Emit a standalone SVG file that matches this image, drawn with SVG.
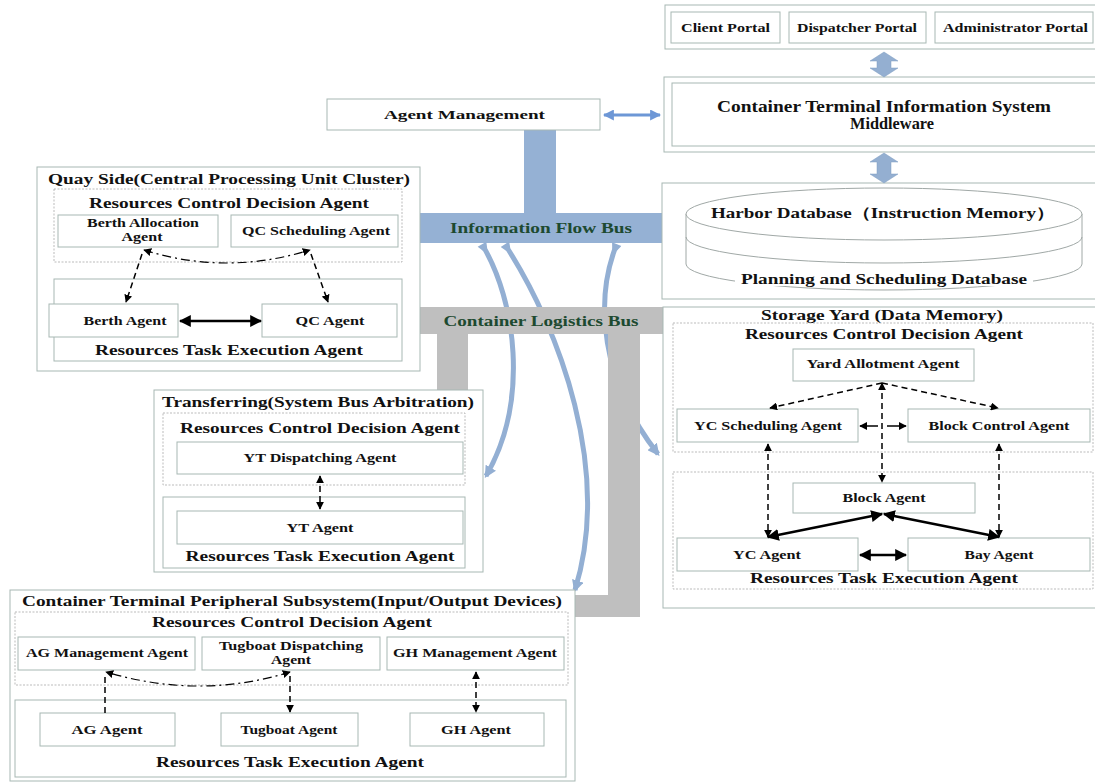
<svg xmlns="http://www.w3.org/2000/svg" width="1095" height="782" viewBox="0 0 1095 782">
<style>
text{font-family:"Liberation Serif","Times New Roman",serif;font-weight:bold;fill:#111;}
.t12{font-size:12px;text-anchor:middle;}
.t11{font-size:11.5px;text-anchor:middle;}
.t15{font-size:15px;text-anchor:middle;}
.t16{font-size:16px;text-anchor:middle;}
.bus{font-size:14.5px;text-anchor:middle;fill:#1d4a30;}
.box{fill:#fff;stroke:#a7b8b3;stroke-width:1;}
.dbox{fill:#fff;stroke:#a9a9a9;stroke-width:0.8;stroke-dasharray:2,1.5;}
.dash{fill:none;stroke:#000;stroke-width:1.5;stroke-dasharray:6,4;}
.dd{fill:none;stroke:#000;stroke-width:1.2;stroke-dasharray:9,4,2,4;}
.sol{fill:none;stroke:#000;stroke-width:2.5;}
.sol1{fill:none;stroke:#000;stroke-width:1.5;}
.curve{fill:none;stroke:#93afd3;stroke-width:5;}
.fat{fill:#94afd1;stroke:#7f9cc0;stroke-width:0.5;}
</style>
<defs>
<marker id="ah" viewBox="0 0 10 10" refX="9" refY="5" markerWidth="8" markerHeight="8" markerUnits="userSpaceOnUse" orient="auto-start-reverse"><path d="M0,0 L10,5 L0,10 z" fill="#000"/></marker>
<marker id="ahb" viewBox="0 0 10 10" refX="9" refY="5" markerWidth="12" markerHeight="12" markerUnits="userSpaceOnUse" orient="auto-start-reverse"><path d="M0,0 L10,5 L0,10 z" fill="#000"/></marker>
<marker id="bh" viewBox="0 0 10 10" refX="8" refY="5" markerWidth="12" markerHeight="12" markerUnits="userSpaceOnUse" orient="auto"><path d="M0,0 L10,5 L0,10 z" fill="#93afd3"/></marker>
<marker id="bt" viewBox="0 0 10 10" refX="2" refY="5" markerWidth="12" markerHeight="10" markerUnits="userSpaceOnUse" orient="auto"><path d="M0,0 L6,2.5 L6,7.5 L0,10 z" fill="#93afd3"/></marker>
<marker id="lb" viewBox="0 0 10 10" refX="9" refY="5" markerWidth="11" markerHeight="11" markerUnits="userSpaceOnUse" orient="auto-start-reverse"><path d="M0,0 L10,5 L0,10 z" fill="#6d97d6"/></marker>
</defs>

<!-- buses -->
<g id="information-flow-bus">
<rect x="524" y="129" width="32" height="86" fill="#95b1d4"/>
<rect x="418" y="213" width="244" height="30" fill="#95b1d4"/>
<text class="bus" x="541" y="233" textLength="182" lengthAdjust="spacingAndGlyphs">Information Flow Bus</text>
</g>
<g id="connectors-bus">
<path class="curve" d="M483,246 C515,300 530,400 486,476" marker-start="url(#bt)" marker-end="url(#bh)"/>
<path class="curve" d="M506,246 C560,330 612,470 575,590" marker-start="url(#bt)" marker-end="url(#bh)"/>
<path class="curve" d="M616,246 C595,300 600,380 658,454" marker-start="url(#bt)" marker-end="url(#bh)"/>
</g>
<g id="container-logistics-bus">
<rect x="418" y="307" width="247" height="27" fill="#bfbfbf"/>
<rect x="437" y="334" width="31" height="60" fill="#bfbfbf"/>
<rect x="608" y="334" width="32" height="283" fill="#bfbfbf"/>
<rect x="560" y="595" width="80" height="22" fill="#bfbfbf"/>
<text class="bus" x="541" y="326" textLength="195" lengthAdjust="spacingAndGlyphs">Container Logistics Bus</text>
</g>

<!-- top right -->
<g id="portals">
<rect class="box" x="665" y="5" width="432" height="44"/>
<rect class="box" x="671" y="12" width="109" height="31"/>
<text class="t12" x="725.5" y="32" textLength="89" lengthAdjust="spacingAndGlyphs">Client Portal</text>
<rect class="box" x="789" y="12" width="137" height="31"/>
<text class="t12" x="857" y="32" textLength="120" lengthAdjust="spacingAndGlyphs">Dispatcher Portal</text>
<rect class="box" x="935" y="12" width="158" height="31"/>
<text class="t12" x="1015.5" y="32" textLength="145" lengthAdjust="spacingAndGlyphs">Administrator Portal</text>
</g>
<g id="middleware">
<rect class="box" x="664" y="77" width="433" height="75"/>
<rect class="box" x="672" y="83" width="425" height="63"/>
<text class="t16" x="884" y="112" textLength="334" lengthAdjust="spacingAndGlyphs">Container Terminal Information System</text>
<text class="t16" x="892" y="129" textLength="84" lengthAdjust="spacingAndGlyphs">Middleware</text>
</g>
<g id="database">
<rect class="box" x="662" y="183" width="435" height="116"/>
<path d="M686,214 L686,264 A198,26 0 0 0 1082,264 L1082,214" fill="#fff" stroke="#a0a8a6" stroke-width="1"/>
<path d="M686,237 A198,26 0 0 0 1082,237" fill="none" stroke="#a0a8a6" stroke-width="1"/>
<ellipse cx="884" cy="214" rx="198" ry="26" fill="#fff" stroke="#a0a8a6" stroke-width="1"/>
<text class="t15" x="883" y="218" textLength="344" lengthAdjust="spacingAndGlyphs">Harbor Database（Instruction Memory）</text>
<rect x="735" y="270" width="298" height="16" fill="#fff"/>
<text class="t15" x="884" y="284" textLength="286" lengthAdjust="spacingAndGlyphs">Planning and Scheduling Database</text>
</g>
<g id="agent-management">
<rect class="box" x="327" y="99" width="273" height="31"/>
<text class="t12" x="464.5" y="119" font-size="13.5" textLength="161" lengthAdjust="spacingAndGlyphs">Agent Management</text>
</g>

<!-- Quay side -->
<g id="quay-side">
<rect class="box" x="37" y="167" width="383" height="204"/>
<text class="t15" x="229" y="184" textLength="362" lengthAdjust="spacingAndGlyphs">Quay Side(Central Processing Unit Cluster)</text>
<rect class="dbox" x="54" y="189" width="348" height="73"/>
<text class="t15" x="229" y="208" textLength="280" lengthAdjust="spacingAndGlyphs">Resources Control Decision Agent</text>
<rect class="box" x="58" y="215" width="160" height="32"/>
<text class="t11" x="143" y="227" textLength="112" lengthAdjust="spacingAndGlyphs">Berth Allocation</text>
<text class="t11" x="142" y="241" textLength="41" lengthAdjust="spacingAndGlyphs">Agent</text>
<rect class="box" x="231" y="215" width="167" height="32"/>
<text class="t11" x="316" y="235" textLength="148" lengthAdjust="spacingAndGlyphs">QC Scheduling Agent</text>
<rect class="box" x="54" y="279" width="348" height="82"/>
<rect class="box" x="49" y="304" width="129" height="33"/>
<text class="t11" x="125" y="325" textLength="83" lengthAdjust="spacingAndGlyphs">Berth Agent</text>
<rect class="box" x="262" y="304" width="135" height="33"/>
<text class="t11" x="330" y="325" textLength="69" lengthAdjust="spacingAndGlyphs">QC Agent</text>
<text class="t15" x="229" y="355" textLength="268" lengthAdjust="spacingAndGlyphs">Resources Task Execution Agent</text>
</g>

<!-- Transferring -->
<g id="transferring">
<rect class="box" x="154" y="390" width="329" height="182"/>
<text class="t15" x="318" y="407" textLength="312" lengthAdjust="spacingAndGlyphs">Transferring(System Bus Arbitration)</text>
<rect class="dbox" x="163" y="413" width="302" height="72"/>
<text class="t15" x="320" y="433" textLength="280" lengthAdjust="spacingAndGlyphs">Resources Control Decision Agent</text>
<rect class="box" x="177" y="442" width="286" height="32"/>
<text class="t11" x="320" y="462" textLength="153" lengthAdjust="spacingAndGlyphs">YT Dispatching Agent</text>
<rect class="box" x="163" y="497" width="302" height="71"/>
<rect class="box" x="177" y="511" width="286" height="33"/>
<text class="t11" x="320" y="532" textLength="67" lengthAdjust="spacingAndGlyphs">YT Agent</text>
<text class="t15" x="320" y="561" textLength="269" lengthAdjust="spacingAndGlyphs">Resources Task Execution Agent</text>
</g>

<!-- Storage yard -->
<g id="storage-yard">
<rect class="box" x="663" y="307" width="434" height="301"/>
<text class="t15" x="882" y="320" textLength="242" lengthAdjust="spacingAndGlyphs">Storage Yard (Data Memory)</text>
<rect class="dbox" x="673" y="323" width="420" height="129"/>
<text class="t15" x="884" y="339" textLength="278" lengthAdjust="spacingAndGlyphs">Resources Control Decision Agent</text>
<rect class="box" x="793" y="349" width="181" height="32"/>
<text class="t11" x="883" y="368" textLength="153" lengthAdjust="spacingAndGlyphs">Yard Allotment Agent</text>
<rect class="box" x="677" y="409" width="181" height="33"/>
<text class="t11" x="768" y="430" textLength="148" lengthAdjust="spacingAndGlyphs">YC Scheduling Agent</text>
<rect class="box" x="908" y="409" width="182" height="33"/>
<text class="t11" x="999" y="430" textLength="141" lengthAdjust="spacingAndGlyphs">Block Control Agent</text>
<rect class="dbox" x="673" y="472" width="420" height="117"/>
<rect class="box" x="793" y="483" width="182" height="30"/>
<text class="t11" x="884" y="502" textLength="83" lengthAdjust="spacingAndGlyphs">Block Agent</text>
<rect class="box" x="677" y="538" width="181" height="33"/>
<text class="t11" x="767" y="559" textLength="68" lengthAdjust="spacingAndGlyphs">YC Agent</text>
<rect class="box" x="908" y="538" width="182" height="33"/>
<text class="t11" x="999" y="559" textLength="69" lengthAdjust="spacingAndGlyphs">Bay Agent</text>
<text class="t15" x="884" y="583" textLength="268" lengthAdjust="spacingAndGlyphs">Resources Task Execution Agent</text>
</g>

<!-- Peripheral -->
<g id="peripheral">
<rect class="box" x="10" y="590" width="565" height="191"/>
<text class="t15" x="292" y="606" textLength="540" lengthAdjust="spacingAndGlyphs">Container Terminal Peripheral Subsystem(Input/Output Devices)</text>
<rect class="dbox" x="15" y="612" width="553" height="73"/>
<text class="t15" x="292" y="627" textLength="280" lengthAdjust="spacingAndGlyphs">Resources Control Decision Agent</text>
<rect class="box" x="18" y="637" width="177" height="33"/>
<text class="t11" x="107" y="657" textLength="162" lengthAdjust="spacingAndGlyphs">AG Management Agent</text>
<rect class="box" x="202" y="637" width="178" height="33"/>
<text class="t11" x="291" y="650" textLength="144" lengthAdjust="spacingAndGlyphs">Tugboat Dispatching</text>
<text class="t11" x="291" y="664" textLength="40" lengthAdjust="spacingAndGlyphs">Agent</text>
<rect class="box" x="387" y="637" width="177" height="33"/>
<text class="t11" x="475" y="657" textLength="164" lengthAdjust="spacingAndGlyphs">GH Management Agent</text>
<rect class="box" x="15" y="700" width="551" height="77"/>
<rect class="box" x="40" y="713" width="135" height="33"/>
<text class="t11" x="107" y="734" textLength="71" lengthAdjust="spacingAndGlyphs">AG Agent</text>
<rect class="box" x="221" y="713" width="137" height="33"/>
<text class="t11" x="289" y="734" textLength="97" lengthAdjust="spacingAndGlyphs">Tugboat Agent</text>
<rect class="box" x="410" y="713" width="134" height="33"/>
<text class="t11" x="476" y="734" textLength="70" lengthAdjust="spacingAndGlyphs">GH Agent</text>
<text class="t15" x="290" y="767" textLength="268" lengthAdjust="spacingAndGlyphs">Resources Task Execution Agent</text>
</g>

<!-- connectors -->
<g id="connectors">
<path class="fat" d="M884,52 L898,61 L891,61 L891,68 L898,68 L884,77 L870,68 L877,68 L877,61 L870,61 z"/>
<path class="fat" d="M884,153 L898,162 L891,162 L891,174 L898,174 L884,183 L870,174 L877,174 L877,162 L870,162 z"/>
<path d="M604,115 L660,115" stroke="#6d97d6" stroke-width="3" fill="none" marker-start="url(#lb)" marker-end="url(#lb)"/>

<path class="dd" d="M144,250 Q226,276 310,250" marker-start="url(#ah)" marker-end="url(#ah)"/>
<path class="dash" d="M142,254 L126,302" marker-end="url(#ah)"/>
<path class="dash" d="M311,254 L328,302" marker-end="url(#ah)"/>
<path class="sol" d="M180,321 L261,321" marker-start="url(#ahb)" marker-end="url(#ahb)"/>

<path class="dash" d="M320,476 L320,509" marker-start="url(#ah)" marker-end="url(#ah)"/>

<path class="dash" d="M882,383 L770,408" marker-end="url(#ah)"/>
<path class="dash" d="M882,383 L998,408" marker-end="url(#ah)"/>
<path class="dash" d="M882,383 L882,482" marker-start="url(#ah)" marker-end="url(#ah)"/>
<path class="sol1" d="M878,426 L860,426" marker-end="url(#ah)"/>
<path class="sol1" d="M887,426 L906,426" marker-end="url(#ah)"/>
<path class="dash" d="M768,444 L768,537" marker-start="url(#ah)" marker-end="url(#ah)"/>
<path class="dash" d="M999,444 L999,537" marker-start="url(#ah)" marker-end="url(#ah)"/>
<path class="sol" d="M768,537 L882,514" marker-start="url(#ahb)" marker-end="url(#ahb)"/>
<path class="sol" d="M999,537 L884,514" marker-start="url(#ahb)" marker-end="url(#ahb)"/>
<path class="sol" d="M860,555 L906,555" marker-start="url(#ahb)" marker-end="url(#ahb)"/>

<path class="dd" d="M290,672 Q200,700 106,672" marker-start="url(#ah)" marker-end="url(#ah)"/>
<path class="dash" d="M105,713 L105,676"/>
<path class="dash" d="M290,676 L290,712" marker-end="url(#ah)"/>
<path class="dash" d="M476,672 L476,712" marker-start="url(#ah)" marker-end="url(#ah)"/>
</g>
</svg>
